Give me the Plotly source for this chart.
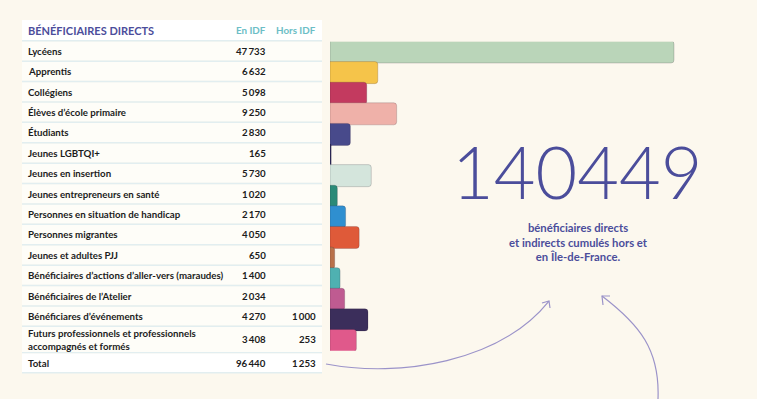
import plotly.graph_objects as go

# ---------------- data ----------------
categories = [
    "Lycéens", "Apprentis", "Collégiens", "Élèves d’école primaire", "Étudiants",
    "Jeunes LGBTQI+", "Jeunes en insertion", "Jeunes entrepreneurs en santé",
    "Personnes en situation de handicap", "Personnes migrantes", "Jeunes et adultes PJJ",
    "Bénéficiaires d’actions d’aller-vers (maraudes)", "Bénéficiaires de l’Atelier",
    "Bénéficiares d’événements",
    "Futurs professionnels et professionnels<br>accompagnés et formés",
]
en_idf = [47733, 6632, 5098, 9250, 2830, 165, 5730, 1020, 2170, 4050, 650, 1400, 2034, 4270, 3408]
hors_idf = [None] * 13 + [1000, 253]
bar_colors = [
    "#bad5b9", "#f5c44a", "#c33a5f", "#efb1a9", "#484a8b", "#2c2a5c", "#d4e5dc",
    "#2a8a78", "#2f8fd0", "#df5a39", "#b9714a", "#4fb1b1", "#bf5b91", "#3b2e5b", "#e0598b",
]
header_title = "BÉNÉFICIAIRES DIRECTS"
col_headers = ["En IDF", "Hors IDF"]
total_label = "Total"
grand_total = 140449
caption = "bénéficiaires directs<br>et indirects cumulés hors et<br>en Île-de-France."

# ---------------- helpers ----------------
W, H = 757, 399
BG = "#fcf8ee"
INK = "#4b4d9b"
TEAL = "#6cbec6"


def px(x):
    return x / W


def py(y):
    return 1 - y / H


def fmt(v):
    if v is None:
        return ""
    return f"{v:,}".replace(",", "\u2009")


bar_values = [a + (b or 0) for a, b in zip(en_idf, hors_idf)]
total_en = sum(en_idf)
total_hors = sum(v for v in hors_idf if v)

fig = go.Figure()

# bars
x0_px, xmax_px = 330, 674
fig.add_trace(go.Bar(
    y=categories,
    x=bar_values,
    orientation="h",
    width=1.07,
    marker=dict(color=bar_colors, cornerradius=3,
                line=dict(color="rgba(40,20,40,0.18)", width=1)),
    hoverinfo="skip",
))

n = len(categories)
top_px, bot_px = 41.7, 350.8
fig.update_layout(
    xaxis=dict(domain=[px(x0_px), 1], range=[0, max(bar_values) * (W - x0_px) / (xmax_px - x0_px)],
               visible=False, fixedrange=True),
    yaxis=dict(domain=[py(bot_px), py(top_px)], range=[n - 0.5, -0.5], type="category",
               categoryorder="array", categoryarray=categories, visible=False, fixedrange=True),
)

# ---------------- table ----------------
shapes = []
annotations = []
tx0, tx1 = 22, 322
label_x = 26
col_x = [268, 318]
font_bold = "Lato"
TXT = "#1c1c1c"
FS = 9.7

row_heights = [20.4] * 14 + [26.5]
header_top, header_h = 20, 20

# header
shapes.append(dict(type="rect", xref="paper", yref="paper", x0=px(tx0), x1=px(tx1),
                   y0=py(header_top + header_h), y1=py(header_top), fillcolor="#ffffff",
                   line=dict(width=0), layer="below"))
hy = header_top + header_h / 2
annotations.append(dict(text=f"<b>{header_title}</b>", x=px(label_x), y=py(hy), xref="paper", yref="paper",
                        xanchor="left", yanchor="middle", showarrow=False,
                        font=dict(family=font_bold, size=11, color=INK)))
for cx, ch in zip(col_x, col_headers):
    annotations.append(dict(text=f"<b>{ch}</b>", x=px(cx), y=py(hy), xref="paper", yref="paper",
                            xanchor="right", yanchor="middle", showarrow=False,
                            font=dict(family=font_bold, size=9.8, color=TEAL)))

y = header_top + header_h
for i, cat in enumerate(categories):
    h = row_heights[i]
    shapes.append(dict(type="rect", xref="paper", yref="paper", x0=px(tx0), x1=px(tx1),
                       y0=py(y + h), y1=py(y + 1.5), fillcolor="#fefdf8",
                       line=dict(width=0), layer="below"))
    shapes.append(dict(type="line", xref="paper", yref="paper", x0=px(tx0), x1=px(tx1),
                       y0=py(y + 0.75), y1=py(y + 0.75), line=dict(color="#e2eef0", width=1.5),
                       layer="below"))
    cy = y + h / 2 + 0.5
    annotations.append(dict(text=f"<b>{cat}</b>", x=px(label_x), y=py(cy), xref="paper", yref="paper",
                            xanchor="left", yanchor="middle", align="left", showarrow=False,
                            font=dict(family=font_bold, size=FS, color=TXT)))
    for cx, v in zip(col_x, [en_idf[i], hors_idf[i]]):
        if v is None:
            continue
        annotations.append(dict(text=f"<b>{fmt(v)}</b>", x=px(cx), y=py(cy), xref="paper", yref="paper",
                                xanchor="right", yanchor="middle", showarrow=False,
                                font=dict(family=font_bold, size=FS, color=TXT)))
    y += h

# total row
th = 20
shapes.append(dict(type="line", xref="paper", yref="paper", x0=px(tx0), x1=px(tx1),
                   y0=py(y + 0.75), y1=py(y + 0.75), line=dict(color="#e2eef0", width=1.5), layer="below"))
shapes.append(dict(type="rect", xref="paper", yref="paper", x0=px(tx0), x1=px(tx1),
                   y0=py(y + th), y1=py(y + 1.5), fillcolor="#ffffff", line=dict(width=0), layer="below"))
shapes.append(dict(type="line", xref="paper", yref="paper", x0=px(tx0), x1=px(tx1),
                   y0=py(y + th + 0.75), y1=py(y + th + 0.75), line=dict(color="#e2eef0", width=1.5),
                   layer="below"))
cy = y + th / 2 + 0.5
annotations.append(dict(text=f"<b>{total_label}</b>", x=px(label_x), y=py(cy), xref="paper", yref="paper",
                        xanchor="left", yanchor="middle", showarrow=False,
                        font=dict(family=font_bold, size=FS, color=TXT)))
for cx, v in zip(col_x, [total_en, total_hors]):
    annotations.append(dict(text=f"<b>{fmt(v)}</b>", x=px(cx), y=py(cy), xref="paper", yref="paper",
                            xanchor="right", yanchor="middle", showarrow=False,
                            font=dict(family=font_bold, size=FS, color=TXT)))

# big number and caption
annotations.append(dict(text=str(grand_total), x=px(577), y=py(171), xref="paper", yref="paper",
                        xanchor="center", yanchor="middle", showarrow=False,
                        font=dict(family="Lato", size=72, color=INK, weight=300)))
annotations.append(dict(text=f"<b>{caption}</b>", x=px(578), y=py(242), xref="paper", yref="paper",
                        xanchor="center", yanchor="middle", align="center", showarrow=False,
                        font=dict(family=font_bold, size=11.3, color=INK)))


# arrows
def path(cmds):
    out = []
    for c in cmds:
        if isinstance(c, str):
            out.append(c)
        else:
            out.append(f"{px(c[0]):.5f},{py(c[1]):.5f}")
    return " ".join(out)


ARROW = "#9b93c9"
arrow_paths = [
    ["M", (326, 364), "C", (400, 378), (500, 362), (549, 301)],
    ["M", (542, 303), "L", (549, 301), "L", (550, 308)],
    ["M", (658, 399), "C", (660, 350), (640, 325), (602, 296)],
    ["M", (610, 296), "L", (602, 296), "L", (603, 305)],
]
for p in arrow_paths:
    shapes.append(dict(type="path", xref="paper", yref="paper", path=path(p),
                       line=dict(color=ARROW, width=1.2)))

fig.update_layout(
    width=W, height=H,
    margin=dict(l=0, r=0, t=0, b=0),
    paper_bgcolor=BG, plot_bgcolor="rgba(0,0,0,0)",
    showlegend=False,
    shapes=shapes,
    annotations=annotations,
)

fig.write_html("out.html", config={"displayModeBar": False},
               post_script="document.body.style.margin='0';")
